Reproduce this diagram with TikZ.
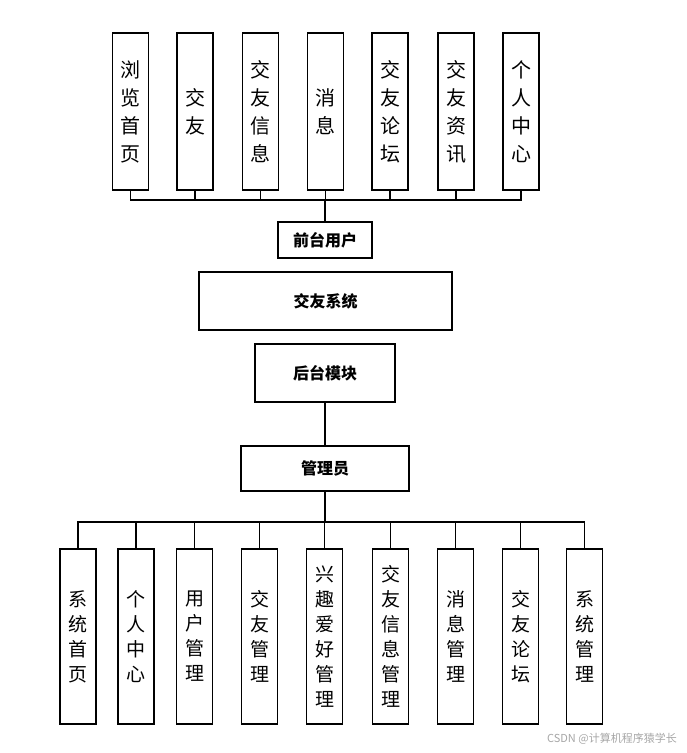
\documentclass[tikz,border=0pt]{standalone}
\usepackage{fontspec}
\newfontfamily\cjk{Noto Sans CJK SC}
\begin{document}
\begin{tikzpicture}[x=1pt,y=-1pt,
  vbox/.style={draw,line width=1.5pt,minimum width=36pt,inner sep=0pt,align=center,font=\cjk\fontsize{20}{28}\selectfont},
  hbox/.style={draw,line width=1.5pt,inner sep=0pt,font=\cjk\bfseries\fontsize{16}{18}\selectfont},
  ln/.style={line width=1.5pt}]
\useasboundingbox (0,0) rectangle (687,753);
\foreach \n/\x/\t in {t1/130.5/浏\\览\\首\\页,t2/195/交\\友,t3/260.5/交\\友\\信\\息,t4/325.5/消\\息,t5/390/交\\友\\论\\坛,t6/456/交\\友\\资\\讯,t7/521/个\\人\\中\\心}
  \node[vbox,minimum height=157pt] (\n) at (\x,111.5) {\t};
\foreach \n/\x/\t in {b1/78/系\\统\\首\\页,b2/136/个\\人\\中\\心,b3/194.5/用\\户\\管\\理,b4/259.5/交\\友\\管\\理,b5/324.5/兴\\趣\\爱\\好\\管\\理,b6/390.5/交\\友\\信\\息\\管\\理,b7/455.5/消\\息\\管\\理,b8/520.5/交\\友\\论\\坛,b9/584.5/系\\统\\管\\理}
  \node[vbox,minimum height=175pt,font=\cjk\fontsize{19}{25}\selectfont] (\n) at (\x,636.5) {\t};
\node[hbox,minimum width=94pt,minimum height=36pt] (fu) at (325,240) {前台用户};
\node[hbox,minimum width=253pt,minimum height=58pt] (xt) at (325.5,301) {交友系统};
\node[hbox,minimum width=140pt,minimum height=58pt] (ht) at (325,373) {后台模块};
\node[hbox,minimum width=168pt,minimum height=45pt] (gl) at (325,468.5) {管理员};
\coordinate (tb) at (325,200);
\coordinate (bb) at (325,522);
\foreach \n in {t1,t2,t3,t4,t5,t6,t7} \draw[ln] (\n.south) |- (tb);
\draw[ln] (tb) -- (fu.north);
\draw[ln] (ht.south) -- (gl.north);
\draw[ln] (gl.south) -- (bb);
\foreach \n in {b1,b2,b3,b4,b5,b6,b7,b8,b9} \draw[ln] (\n.north) |- (bb);
\node[anchor=south east,text=gray!70,font=\cjk\fontsize{11}{12}\selectfont,inner sep=0pt] (wm) at (677,745) {CSDN @计算机程序猿学长};
\end{tikzpicture}
\end{document}
